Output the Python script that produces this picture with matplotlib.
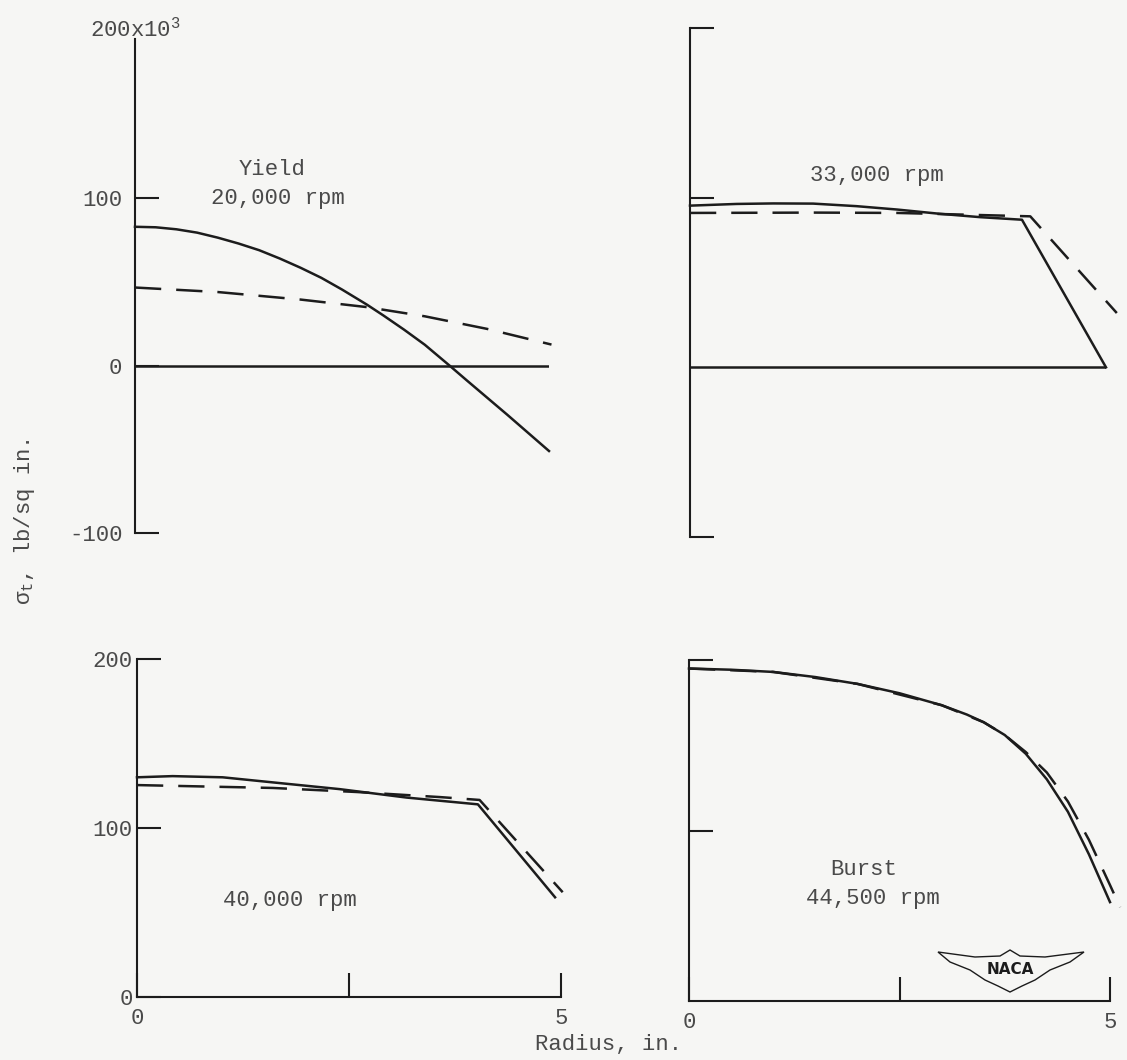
import matplotlib
matplotlib.use("Agg")
import matplotlib.pyplot as plt
from matplotlib.patches import Polygon

plt.rcParams['font.family'] = ['Liberation Mono', 'DejaVu Sans Mono']
plt.rcParams['mathtext.fontset'] = 'custom'
plt.rcParams['mathtext.rm'] = 'Liberation Mono'
plt.rcParams['mathtext.it'] = 'Liberation Mono'
plt.rcParams['mathtext.bf'] = 'Liberation Mono:bold'

# ---------------- data (radius in., stress in 1000 lb/sq in.) ----------------
# Yield, 20,000 rpm
r_20_solid = [0, 0.25, 0.5, 0.75, 1.0, 1.25, 1.5, 1.75, 2.0, 2.25, 2.5, 2.8,
              3.0, 3.25, 3.5, 3.8, 4.0, 4.5, 5.0]
s_20_solid = [83, 82.7, 81.5, 79.5, 76.5, 73, 69, 64, 58.5, 52.5, 45.5, 36.5,
              30, 21.5, 12.5, 0, -8.5, -29.5, -51]
r_20_dash = [0, 1.0, 2.0, 2.8, 3.5, 4.25, 5.03]
s_20_dash = [46.7, 44, 39.5, 35, 29.5, 22, 12.6]

# 33,000 rpm
r_33_solid = [0, 0.56, 1.0, 1.48, 2.0, 2.49, 3.0, 3.49, 3.99, 5.0]
s_33_solid = [95.3, 96.3, 96.6, 96.5, 95, 93, 90.5, 88.5, 87, 0]
r_33_dash = [0, 1.5, 2.49, 3.3, 4.09, 5.13]
s_33_dash = [91, 91.2, 91, 90, 89, 32]

# 40,000 rpm
r_40_solid = [0, 0.42, 1.01, 1.6, 2.39, 3.18, 4.02, 4.93]
s_40_solid = [130, 130.7, 130, 127, 123, 118, 114, 59]
r_40_dash = [0, 1.6, 2.59, 3.57, 4.04, 5.02]
s_40_dash = [125.4, 123.7, 121.3, 118.3, 116.6, 62]

# Burst, 44,500 rpm
r_445_solid = [0, 0.5, 1.0, 1.5, 2.0, 2.5, 3.0, 3.3, 3.5, 3.75, 4.0, 4.25,
               4.5, 4.75, 5.0]
s_445_solid = [195, 194.3, 193, 190, 186, 180.5, 173.5, 168, 163.5, 156, 145,
               130, 111, 86, 58]
r_445_dash = [0, 1.0, 2.0, 3.0, 3.5, 3.75, 4.0, 4.25, 4.5, 4.75, 5.0, 5.12]
s_445_dash = [195, 193, 186, 173.5, 163.5, 156, 146, 134, 117, 94.5, 68, 55]

zero_r = [0, 5]
zero_s = [0, 0]

# ---------------- styling ----------------
W, H = 1127, 1060
BG = '#f6f6f4'
INK = '#1c1c1c'
TXT = '#4a4a4a'
LW = 1.8
AXLW = 1.5
DASH = (10.5, 6)
FS = 16

fig = plt.figure(figsize=(W / 100, H / 100), dpi=100, facecolor=BG)


def make_ax(x0, x5, ylo_px, ylo_val, yhi_px, yhi_val):
    left = x0 / W
    width = (x5 - x0) / W
    bottom = 1 - ylo_px / H
    height = (ylo_px - yhi_px) / H
    ax = fig.add_axes([left, bottom, width, height])
    ax.set_xlim(0, 5)
    ax.set_ylim(ylo_val, yhi_val)
    ax.patch.set_alpha(0)
    for s in ['top', 'right']:
        ax.spines[s].set_visible(False)
    for s in ['left', 'bottom']:
        ax.spines[s].set_linewidth(AXLW)
        ax.spines[s].set_color(INK)
    ax.tick_params(direction='in', length=17, width=AXLW, color=INK,
                   labelsize=FS, labelcolor=TXT)
    return ax


def curves(ax, rs, ss, rd, sd):
    ax.plot(rs, ss, color=INK, lw=LW, clip_on=False)
    ax.plot(rd, sd, color=INK, lw=LW, dashes=DASH, clip_on=False)


# Top-left: Yield 20,000 rpm
ax1 = make_ax(135, 549, 533, -100, 31, 200)
ax1.spines['bottom'].set_visible(False)
ax1.spines['left'].set_bounds(-100, 195)
ax1.set_xticks([])
ax1.set_yticks([-100, 0, 100])
ax1.set_yticklabels(['-100', '0', '100'])
ax1.tick_params(axis='y', pad=9)
ax1.plot(zero_r, zero_s, color=INK, lw=LW)
curves(ax1, r_20_solid, s_20_solid, r_20_dash, s_20_dash)
ax1.text(0, 201, '200x10$^{3}$', ha='center', va='center', fontsize=FS, color=TXT)
ax1.text(1.65, 117, 'Yield', ha='center', va='center', fontsize=FS, color=TXT)
ax1.text(1.72, 100, '20,000 rpm', ha='center', va='center', fontsize=FS, color=TXT)

# Top-right: 33,000 rpm
ax2 = make_ax(690, 1106, 537, -100, 28, 200)
ax2.spines['bottom'].set_visible(False)
ax2.spines['left'].set_bounds(-100, 200)
ax2.set_xticks([])
ax2.set_yticks([-100, 100, 200])
ax2.set_yticklabels([])
ax2.plot(zero_r, zero_s, color=INK, lw=LW)
curves(ax2, r_33_solid, s_33_solid, r_33_dash, s_33_dash)
ax2.text(2.25, 113, '33,000 rpm', ha='center', va='center', fontsize=FS, color=TXT)

# Bottom-left: 40,000 rpm
ax3 = make_ax(137, 561, 997, 0, 659, 200)
ax3.spines['left'].set_bounds(0, 200)
ax3.spines['bottom'].set_bounds(0, 5)
ax3.set_yticks([0, 100, 200])
ax3.set_yticklabels(['0', '100', '200'])
ax3.tick_params(axis='y', pad=3)
ax3.set_xticks([0, 2.5, 5])
ax3.set_xticklabels(['0', '', '5'])
ax3.tick_params(axis='x', pad=8)
curves(ax3, r_40_solid, s_40_solid, r_40_dash, s_40_dash)
ax3.text(1.8, 57, '40,000 rpm', ha='center', va='center', fontsize=FS, color=TXT)

# Bottom-right: Burst 44,500 rpm
ax4 = make_ax(689, 1110, 1001, 0, 660, 200)
ax4.spines['left'].set_bounds(0, 200)
ax4.spines['bottom'].set_bounds(0, 5)
ax4.set_yticks([100, 200])
ax4.set_yticklabels([])
ax4.set_xticks([0, 2.5, 5])
ax4.set_xticklabels(['0', '', '5'])
ax4.tick_params(axis='x', pad=8)
curves(ax4, r_445_solid, s_445_solid, r_445_dash, s_445_dash)
ax4.text(2.08, 77, 'Burst', ha='center', va='center', fontsize=FS, color=TXT)
ax4.text(2.18, 60, '44,500 rpm', ha='center', va='center', fontsize=FS, color=TXT)

# Axis titles
fig.text(25 / W, 1 - 522 / H, r'$\sigma_{\mathrm{t}}$, lb/sq in.', rotation=90,
         ha='center', va='center', fontsize=FS, color=TXT)
fig.text(535 / W, 1 - 1045 / H, 'Radius, in.', ha='left', va='center',
         fontsize=FS, color=TXT)


# NACA wing logo (decoration)
def px(x, y):
    return (x / W, 1 - y / H)


wing = [px(938, 952), px(975, 957), px(1000, 956), px(1010, 950), px(1020, 956),
        px(1045, 957), px(1084, 952), px(1070, 962), px(1050, 970), px(1035, 980),
        px(1022, 986), px(1010, 992), px(998, 986), px(985, 980), px(970, 970),
        px(950, 962)]
fig.patches.append(Polygon(wing, closed=True, transform=fig.transFigure,
                           facecolor='none', edgecolor=INK, lw=1.0))
fig.text(1010 / W, 1 - 969 / H, 'NACA', ha='center', va='center', fontsize=11,
         fontweight='bold', family='DejaVu Sans', color=INK)

fig.savefig('out.png', dpi=100, facecolor=BG)
